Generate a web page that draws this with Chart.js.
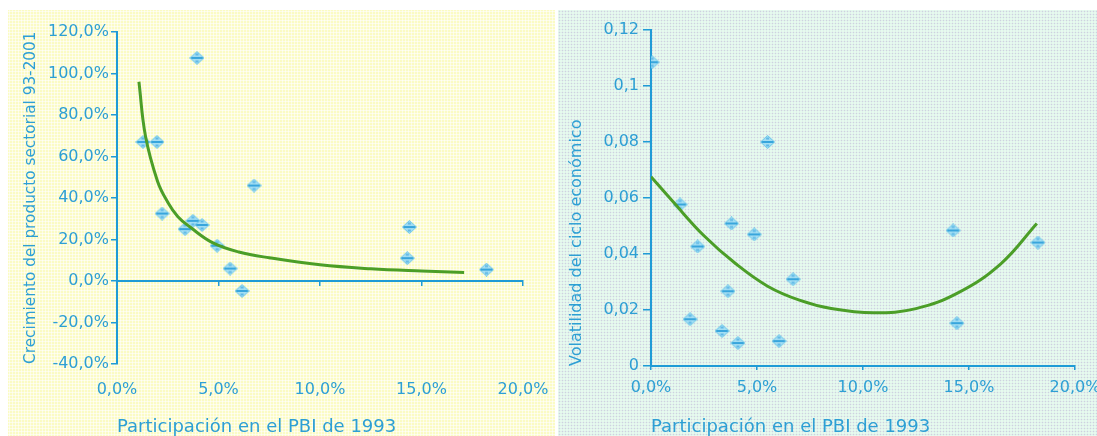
<!DOCTYPE html>
<html lang="es">
<head>
<meta charset="utf-8">
<script src="https://cdn.jsdelivr.net/npm/chart.js@4/dist/chart.umd.min.js"></script>
<style>
  html, body { margin: 0; padding: 0; background: #ffffff; }
  body { width: 1097px; height: 436px; position: relative; overflow: hidden; }
  .panel { position: absolute; top: 10px; height: 426px; }
  #panelGrowth {
    left: 8px; width: 547px;
    background-color: #fbfbc4;
    background-image: radial-gradient(circle, rgba(255,255,255,0.85) 0.9px, rgba(255,255,255,0) 1.2px);
    background-size: 3px 3px;
  }
  #panelVol {
    left: 558px; width: 539px;
    background-color: #e6faee;
    background-image: radial-gradient(circle, rgba(186,176,214,0.55) 0.7px, rgba(186,176,214,0) 1.1px);
    background-size: 3px 3px;
  }
  canvas { display: block; }
</style>
</head>
<body>
<div class="panel" id="panelGrowth"><canvas id="growthChart" width="547" height="426"></canvas></div>
<div class="panel" id="panelVol"><canvas id="volChart" width="539" height="426"></canvas></div>
<script>
// Sector share of 1993 GDP (%) and growth of sector output 93-2001 (%)
const growthShare = [1.28, 1.97, 2.22, 3.35, 3.74, 3.94, 4.19, 4.93, 5.57, 6.16, 6.75, 14.4, 14.3, 18.2];
const growthValue = [67, 67, 32.5, 25, 29, 107.5, 27, 17, 6, -4.8, 46, 26, 11, 5.5];

// Trend curve for growth vs. share
const growthTrendShare = [1.08, 1.4, 2.0, 2.5, 3.0, 3.6, 4.7, 6.0, 7.5, 10, 12.5, 15, 17.1];
const growthTrendValue = [96, 70, 48, 38, 31, 26, 18.5, 14, 11.2, 7.8, 5.9, 4.8, 4.1];

// Sector share of 1993 GDP (%) and volatility of the economic cycle
const volShare = [0.05, 1.37, 1.84, 2.2, 3.35, 3.63, 3.8, 4.1, 4.87, 5.5, 6.04, 6.7, 14.25, 14.43, 18.25];
const volValue = [0.1085, 0.0577, 0.0167, 0.0427, 0.0125, 0.0267, 0.0509, 0.0082, 0.047, 0.080, 0.0089, 0.031, 0.0484, 0.0153, 0.0441];

// Trend curve for volatility vs. share
const volTrendShare = [0, 1, 2.5, 4, 5.5, 7, 8.5, 10.5, 12.5, 14.5, 16.5, 18.2];
const volTrendValue = [0.0676, 0.059, 0.0465, 0.0365, 0.0285, 0.0235, 0.0205, 0.019, 0.0205, 0.0262, 0.0365, 0.0509];

// Axis tick settings
const shareTicks = { min: 0, max: 20, step: 5 };
const growthTicks = { min: -40, max: 120, step: 20 };
const volTicks = { min: 0, max: 0.12, step: 0.02 };

const xTitle = 'Participación en el PBI de 1993';
const growthTitle = 'Crecimiento del producto sectorial 93-2001';
const volTitle = 'Volatilidad del ciclo económico';

const AXIS = '#1f9bd6';
const TEXT = '#2d9fd4';
const CURVE = '#4b9e27';
const FONT = '"DejaVu Sans", Verdana, sans-serif';

const toPoints = (xs, ys) => xs.map((x, i) => ({ x, y: ys[i] }));
const pct = v => v.toFixed(1).replace('.', ',') + '%';
const dec = v => String(Number(v.toFixed(2))).replace('.', ',');

// Fixed axis boxes so the plot area sits exactly inside the layout padding
const fixX = h => s => { s.height = h; s.paddingLeft = 0; s.paddingRight = 0; };
const fixY = w => s => { s.width = w; s.paddingTop = 0; s.paddingBottom = 0; };

// Diamond marker with a darker band across the middle
function makeMarker() {
  const c = document.createElement('canvas');
  c.width = 15; c.height = 14;
  const g = c.getContext('2d');
  g.beginPath();
  g.moveTo(7.5, 0.5); g.lineTo(14.5, 7); g.lineTo(7.5, 13.5); g.lineTo(0.5, 7); g.closePath();
  g.fillStyle = '#a3def3';
  g.fill();
  g.strokeStyle = 'rgba(80,186,230,0.8)';
  g.lineWidth = 1;
  g.stroke();
  g.fillStyle = '#38a5dc';
  g.fillRect(1.5, 6, 12, 2);
  g.fillStyle = 'rgba(60,165,222,0.65)';
  g.fillRect(6, 2.5, 3, 2);
  g.fillRect(6, 9.5, 3, 2);
  return c;
}
const marker = makeMarker();

function scatterSet(xs, ys) {
  return {
    type: 'scatter',
    data: toPoints(xs, ys),
    pointStyle: marker,
    pointRadius: 7,
    order: 1
  };
}
function trendSet(xs, ys) {
  return {
    type: 'line',
    data: toPoints(xs, ys),
    showLine: true,
    borderColor: CURVE,
    borderWidth: 3,
    pointRadius: 0,
    tension: 0.4,
    fill: false,
    order: 0
  };
}

const yTickFont = { family: FONT, size: 16 };
const xTickFont = { family: FONT, size: 16 };
const xTitleFont = { family: FONT, size: 18, lineHeight: 1.0 };

// Growth panel
new Chart(document.getElementById('growthChart'), {
  type: 'scatter',
  data: {
    datasets: [
      scatterSet(growthShare, growthValue),
      trendSet(growthTrendShare, growthTrendValue)
    ]
  },
  options: {
    responsive: false,
    animation: false,
    layout: { padding: { top: 22, right: 32, bottom: 0, left: 0 } },
    plugins: { legend: { display: false }, tooltip: { enabled: false } },
    scales: {
      x: {
        type: 'linear', position: 'bottom',
        min: shareTicks.min, max: shareTicks.max,
        grid: { display: false },
        border: { display: false },
        ticks: { stepSize: shareTicks.step, autoSkip: false, color: TEXT, font: xTickFont, padding: 8, callback: pct, maxRotation: 0 },
        title: { display: true, text: xTitle, align: 'start', color: TEXT, font: xTitleFont, padding: { top: 0, bottom: 0 } },
        afterFit: fixX(72)
      },
      xZero: {
        type: 'linear', position: { y: 0 },
        min: shareTicks.min, max: shareTicks.max,
        grid: { drawOnChartArea: false, drawTicks: true, tickLength: 4, color: AXIS, lineWidth: 1.5 },
        border: { display: true, color: AXIS, width: 2 },
        ticks: { stepSize: shareTicks.step, display: false },
        afterFit: fixX(0)
      },
      y: {
        type: 'linear', position: 'left',
        min: growthTicks.min, max: growthTicks.max,
        grid: { drawOnChartArea: false, drawTicks: true, tickLength: 6, color: AXIS, lineWidth: 1.5 },
        border: { display: true, color: AXIS, width: 2 },
        ticks: { stepSize: growthTicks.step, autoSkip: false, color: TEXT, font: yTickFont, padding: 2, callback: pct },
        title: { display: true, text: growthTitle, align: 'start', color: TEXT, font: { family: FONT, size: 15.3 }, padding: { top: 14, bottom: 0 } },
        afterFit: fixY(109)
      }
    }
  }
});

// Volatility panel
new Chart(document.getElementById('volChart'), {
  type: 'scatter',
  data: {
    datasets: [
      scatterSet(volShare, volValue),
      trendSet(volTrendShare, volTrendValue)
    ]
  },
  options: {
    responsive: false,
    animation: false,
    layout: { padding: { top: 20, right: 22, bottom: 0, left: 0 } },
    plugins: { legend: { display: false }, tooltip: { enabled: false } },
    scales: {
      x: {
        type: 'linear', position: 'bottom',
        min: shareTicks.min, max: shareTicks.max,
        grid: { drawOnChartArea: false, drawTicks: true, tickLength: 4, color: AXIS, lineWidth: 1.5 },
        border: { display: true, color: AXIS, width: 2 },
        ticks: { stepSize: shareTicks.step, autoSkip: false, color: TEXT, font: xTickFont, padding: 8, callback: pct, maxRotation: 0 },
        title: { display: true, text: xTitle, align: 'start', color: TEXT, font: xTitleFont, padding: { top: 0, bottom: 0 } },
        afterFit: fixX(70)
      },
      y: {
        type: 'linear', position: 'left',
        min: volTicks.min, max: volTicks.max,
        grid: { drawOnChartArea: false, drawTicks: true, tickLength: 8, color: AXIS, lineWidth: 1.5 },
        border: { display: true, color: AXIS, width: 2 },
        ticks: { stepSize: volTicks.step, autoSkip: false, color: TEXT, font: yTickFont, padding: 4, callback: dec },
        title: { display: true, text: volTitle, align: 'start', color: TEXT, font: { family: FONT, size: 16 }, padding: { top: 9, bottom: 0 } },
        afterFit: fixY(93)
      }
    }
  }
});
</script>
</body>
</html>
